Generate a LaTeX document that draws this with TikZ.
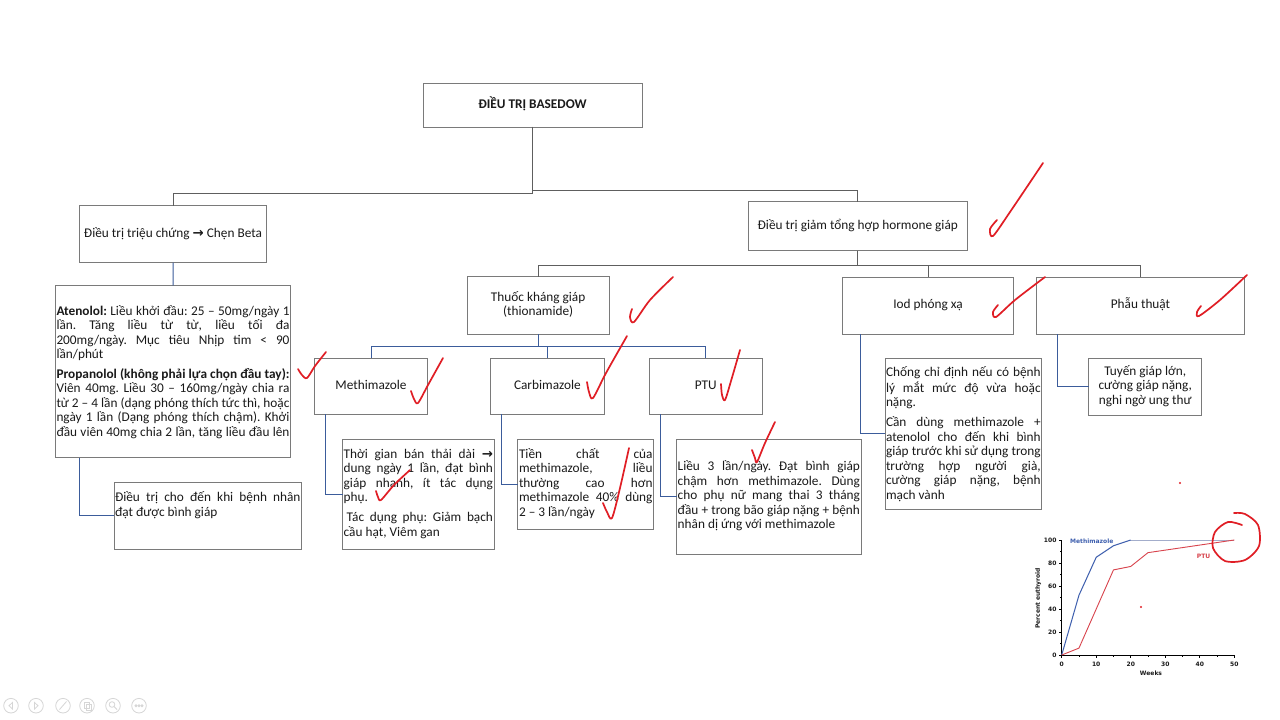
\documentclass[tikz,border=0pt]{standalone}
\usepackage{fontspec}
\setmainfont{Carlito}
\newfontfamily\djv{DejaVu Sans}
\definecolor{boxc}{HTML}{7A7A7A}
\definecolor{treec}{HTML}{5E5E5E}
\definecolor{bluec}{HTML}{3B5C9B}
\definecolor{redc}{HTML}{E01E25}
\definecolor{txt}{HTML}{1A1A1A}
\definecolor{mblue}{HTML}{3E5FAE}
\definecolor{mbluel}{HTML}{A3ADCB}
\definecolor{pred}{HTML}{D8434C}
\definecolor{iconc}{HTML}{D6D6D6}
\newcommand\jl[2]{\makebox[#1][s]{\strut #2}}
\newcommand\rsp{\spaceskip=0pt\xspaceskip=0pt\frenchspacing}
\newcommand\arr{{\djv\bfseries →}}
\begin{document}
\begin{tikzpicture}[x=1bp,y=-1bp,
  font=\fontsize{13.3bp}{14.5bp}\selectfont, text=txt,
  box/.style={draw=boxc, line width=0.9bp, inner sep=0pt, outer sep=0pt, anchor=north west, align=center},
  txtn/.style={inner sep=0pt, outer sep=0pt, anchor=north west, align=left},
  tr/.style={draw=treec, line width=1bp},
  bl/.style={draw=bluec, line width=1bp},
  chk/.style={draw=redc, line width=1.7bp, line cap=round, line join=round},
  chart/.style={font=\djv\bfseries\fontsize{6bp}{7bp}\selectfont, inner sep=0pt},
  icon/.style={draw=iconc, line width=0.8bp}]
\useasboundingbox (0,0) rectangle (1280,720);
\fill[white] (0,0) rectangle (1280,720);

% ---------- boxes ----------
\node[box, minimum width=219bp, minimum height=44bp] (root) at (423,83) {\strut\bfseries ĐIỀU TRỊ BASEDOW};
\node[box, minimum width=187.4bp, minimum height=57bp] (sym) at (79.3,205.7) {\strut Điều trị triệu chứng \arr{} Chẹn Beta};
\node[box, minimum width=219bp, minimum height=49bp] (hor) at (748.3,201.7) {\strut Điều trị giảm tổng hợp hormone giáp};
\node[box, minimum width=235bp, minimum height=172.2bp] (aten) at (55.7,285.5) {};
\node[box, minimum width=187.7bp, minimum height=67bp] (dtc) at (114,482.3) {};
\node[box, minimum width=141.7bp, minimum height=57.3bp] (thuoc) at (467.3,276.7) {\strut Thuốc kháng giáp\\\strut (thionamide)};
\node[box, minimum width=113.4bp, minimum height=56bp] (meth) at (314.3,358.3) {\strut Methimazole};
\node[box, minimum width=113.4bp, minimum height=56bp] (carb) at (490.7,358.3) {\strut Carbimazole};
\node[box, minimum width=113.4bp, minimum height=56bp] (ptu) at (649,358.3) {\strut PTU};
\node[box, minimum width=151.3bp, minimum height=110bp] (methd) at (342.7,439) {};
\node[box, minimum width=135.5bp, minimum height=89.7bp] (carbd) at (517.8,439.3) {};
\node[box, minimum width=184.3bp, minimum height=115bp] (ptud) at (676.7,439) {};
\node[box, minimum width=170.6bp, minimum height=56.7bp] (iod) at (842.7,277.3) {\strut Iod phóng xạ};
\node[box, minimum width=207.6bp, minimum height=56.7bp] (phau) at (1036.7,277.3) {\strut Phẫu thuật};
\node[box, minimum width=156.7bp, minimum height=151bp] (iodd) at (885,358.3) {};
\node[box, minimum width=113bp, minimum height=56.7bp] (phaud) at (1088.7,358.3) {\strut Tuyến giáp lớn,\\\strut cường giáp nặng,\\\strut nghi ngờ ung thư};

% ---------- texts in detail boxes ----------
\node[txtn, text width=233bp] (atent) at (56.5,305.3) {\noindent\rsp
\jl{233bp}{\textbf{Atenolol:} Liều khởi đầu: 25 – 50mg/ngày 1}\\
\jl{233bp}{lần. Tăng liều từ từ, liều tối đa}\\
\jl{233bp}{200mg/ngày. Mục tiêu Nhịp tim < 90}\\
\strut lần/phút\\[5bp]
\jl{233bp}{\textbf{Propanolol (không phải lựa chọn đầu tay):}}\\
\jl{233bp}{Viên 40mg. Liều 30 – 160mg/ngày chia ra}\\
\jl{233bp}{từ 2 – 4 lần (dạng phóng thích tức thì, hoặc}\\
\jl{233bp}{ngày 1 lần (Dạng phóng thích chậm). Khởi}\\
\jl{233bp}{đầu viên 40mg chia 2 lần, tăng liều đầu lên}};

\node[txtn, text width=185.5bp] (dtct) at (115,491.5) {\noindent\rsp
\jl{185.5bp}{Điều trị cho đến khi bệnh nhân}\\
\strut đạt được bình giáp};

\node[txtn, text width=149.3bp] (metht) at (343.7,448.2) {\noindent\rsp
\jl{149.3bp}{Thời gian bán thải dài \arr}\\
\jl{149.3bp}{dung ngày 1 lần, đạt bình}\\
\jl{149.3bp}{giáp nhanh, ít tác dụng}\\
\strut phụ.\\[5.5bp]
\jl{149.3bp}{\hspace{3bp}Tác dụng phụ: Giảm bạch}\\
\strut cầu hạt, Viêm gan};

\node[txtn, text width=133.5bp] (carbt) at (519,448.2) {\noindent\rsp
\jl{133.5bp}{Tiền chất của}\\
\jl{133.5bp}{methimazole, liều}\\
\jl{133.5bp}{thường cao hơn}\\
\jl{133.5bp}{methimazole 40\% dùng}\\
\strut 2 – 3 lần/ngày};

\node[txtn, text width=182.3bp] (ptut) at (677.7,460.5) {\noindent\rsp
\jl{182.3bp}{Liều 3 lần/ngày. Đạt bình giáp}\\
\jl{182.3bp}{chậm hơn methimazole. Dùng}\\
\jl{182.3bp}{cho phụ nữ mang thai 3 tháng}\\
\jl{182.3bp}{đầu + trong bão giáp nặng + bệnh}\\
\strut nhân dị ứng với methimazole};

\node[txtn, text width=154.7bp] (iodt) at (886,365.9) {\noindent\rsp
\jl{154.7bp}{Chống chỉ định nếu có bệnh}\\
\jl{154.7bp}{lý mắt mức độ vừa hoặc}\\
\strut nặng.\\[5.5bp]
\jl{154.7bp}{Cần dùng methimazole +}\\
\jl{154.7bp}{atenolol cho đến khi bình}\\
\jl{154.7bp}{giáp trước khi sử dụng trong}\\
\jl{154.7bp}{trường hợp người già,}\\
\jl{154.7bp}{cường giáp nặng, bệnh}\\
\strut mạch vành};

% ---------- connectors ----------
\draw[tr] (root.south) -- ++(0,66) -| (sym.north);
\draw[tr] (root.south) -- ++(0,63) -| (hor.north);
\draw[tr] (hor.south) -- ++(0,14.3) -| (thuoc.north);
\draw[tr] (hor.south) -- ++(0,14.3) -| (iod.north);
\draw[tr] (hor.south) -- ++(0,14.3) -| (phau.north);
\draw[bl] (sym.south) -- (aten.north);
\draw[bl] ([xshift=23.5bp]aten.south west) |- (dtc.west);
\draw[bl] (thuoc.south) -- ++(0,12) -| (meth.north);
\draw[bl] (thuoc.south) -- ++(0,12) -| (carb.north);
\draw[bl] (thuoc.south) -- ++(0,12) -| (ptu.north);
\draw[bl] ([xshift=11.3bp]meth.south west) |- (methd.west);
\draw[bl] ([xshift=11bp]carb.south west) |- (carbd.west);
\draw[bl] ([xshift=11bp]ptu.south west) |- (ptud.west);
\draw[bl] ([xshift=17.3bp]iod.south west) |- (iodd.west);
\draw[bl] ([xshift=20.6bp]phau.south west) |- (phaud.west);

% ---------- chart ----------
\begin{scope}[shift={(1061.7,655)}]
\begin{scope}[x=3.452bp,y=1.15bp]
  \draw[black, line width=0.9bp] (0,100) -- (0,0) -- (50,0);
  \foreach \p in {0,20,...,100} {
    \draw[black, line width=0.7bp] (0,\p) -- ++(-3bp,0);
    \node[chart, anchor=east] (yl\p) at ([xshift=-5bp]0,\p) {\p};
  }
  \foreach \p in {10,30,...,90} \draw[black, line width=0.6bp] (0,\p) -- ++(-2bp,0);
  \foreach \w in {0,10,...,50} {
    \draw[black, line width=0.7bp] (\w,0) -- ++(0,-3bp);
    \node[chart] (xl\w) at ([yshift=-9bp]\w,0) {\w};
  }
  \foreach \w in {5,15,...,45} \draw[black, line width=0.6bp] (\w,0) -- ++(0,-2bp);
  \draw[mbluel, line width=1bp] (20,100) -- (50,100);
  \draw[mblue, line width=1bp, line join=round] (0,0) -- (5,52) -- (10,85) -- (15,95) -- (20,100);
  \draw[pred, line width=0.9bp, line join=round] (0,0) -- (5,6) -- (10,40) -- (15,74) -- (20,77) -- (25,89) -- (50,100);
\end{scope}
\end{scope}
\node[chart, text=mblue, anchor=west] (mlab) at (1070,541.7) {Methimazole};
\node[chart, text=pred, anchor=west] (plab) at (1196.7,556) {PTU};
\node[chart] (wlab) at (1151,673.3) {Weeks};
\node[chart, rotate=90] (ylab) at (1038.3,598.3) {Percent euthyroid};

% ---------- red annotations ----------
\draw[chk] plot[smooth] coordinates {(997,220) (990,229) (993,236) (1010,212) (1043,163)};
\draw[chk] plot[smooth] coordinates {(632,309) (630,317) (634,322) (650,300) (673,277)};
\draw[chk] plot[smooth] coordinates {(298,369) (302,375) (307,378) (315,366) (326,352)};
\draw[chk] plot[smooth] coordinates {(411,391) (414,399) (418,403) (428,385) (443,358)};
\draw[chk] plot[smooth] coordinates {(587,382) (589,392) (593,398) (606,373) (627,336)};
\draw[chk] plot[smooth] coordinates {(721,384) (722,395) (725,400) (731,381) (740,350)};
\draw[chk] plot[smooth] coordinates {(752,450) (755,458) (757,462) (765,443) (775,422)};
\draw[chk] plot[smooth] coordinates {(376,491) (378,497) (381,500) (394,485) (410,470)};
\draw[chk] plot[smooth] coordinates {(603,503) (607,512) (612,518) (620,488) (629,448)};
\draw[chk] plot[smooth] coordinates {(998,305) (993,312) (996,317) (1015,300) (1045,277)};
\draw[chk] plot[smooth] coordinates {(1201,306) (1197,312) (1199,316) (1220,300) (1247,275)};
\draw[chk] plot[smooth] coordinates {(1242,525) (1228,522) (1215,532) (1213,548) (1225,561) (1245,560) (1259,546) (1258,525) (1245,514) (1234,513)};
\fill[redc] (1180,483) circle (1.2bp);
\fill[redc] (1141,607) circle (1.2bp);

% ---------- toolbar icons ----------
\foreach \x in {11,36,63,87,113,139} \draw[icon] (\x,705.7) circle (7.3bp);
\draw[icon] (12.5,702.5) -- (9,705.7) -- (12.5,709) -- cycle;
\draw[icon] (34.5,702.5) -- (38,705.7) -- (34.5,709) -- cycle;
\draw[icon] (59.5,709.5) -- (66.5,701.5);
\draw[icon] (84,702) rectangle (89,708); \draw[icon] (86,704) rectangle (91,710);
\draw[icon] (112,704.5) circle (2.8bp); \draw[icon] (114,706.5) -- (117,709.5);
\foreach \x in {136,139,142} \draw[icon] (\x,705.7) circle (1bp);
\end{tikzpicture}
\end{document}
